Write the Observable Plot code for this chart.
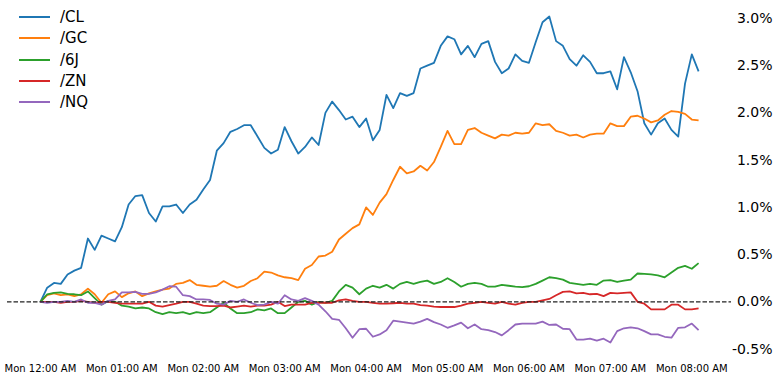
<!DOCTYPE html>
<html>
<head>
<meta charset="utf-8">
<script src="https://cdn.jsdelivr.net/npm/d3@7"></script>
<script src="https://cdn.jsdelivr.net/npm/@observablehq/plot@0.6"></script>
<style>
  html, body { margin: 0; padding: 0; background: #fff; }
  #wrap { position: relative; width: 780px; height: 374px; font-family: "DejaVu Sans", sans-serif; }
  #legend { position: absolute; left: 19px; top: 6.5px; }
  .row { display: flex; align-items: center; height: 21.25px; font-size: 15px; color: #000; }
  .row svg { margin-right: 10px; }
</style>
</head>
<body>
<div id="wrap"><div id="legend"></div></div>
<script>
// Series names and colours
const seriesNames = ["/CL", "/GC", "/6J", "/ZN", "/NQ"];
const seriesColors = ["#1f77b4", "#ff7f0e", "#2ca02c", "#d62728", "#9467bd"];

// Time axis: Monday, 5-minute bars starting at 12:00 AM
const startTime = Date.UTC(2024, 0, 1, 0, 0);
const stepMinutes = 5;

// Cumulative % change per series
const CL = [0, 0.15, 0.20, 0.19, 0.29, 0.33, 0.36, 0.67, 0.55, 0.70,
  0.67, 0.64, 0.79, 1.03, 1.12, 1.13, 0.94, 0.85, 1.01, 1.01,
  1.03, 0.94, 1.03, 1.08, 1.19, 1.29, 1.60, 1.68, 1.80, 1.83,
  1.87, 1.87, 1.75, 1.63, 1.57, 1.61, 1.85, 1.70, 1.57, 1.64,
  1.74, 1.66, 2.00, 2.12, 2.03, 1.93, 1.96, 1.85, 1.94, 1.71,
  1.82, 2.19, 2.05, 2.21, 2.18, 2.21, 2.47, 2.50, 2.53, 2.71,
  2.81, 2.78, 2.62, 2.71, 2.59, 2.73, 2.76, 2.54, 2.42, 2.47,
  2.62, 2.55, 2.53, 2.75, 2.96, 3.02, 2.76, 2.71, 2.57, 2.50,
  2.61, 2.54, 2.42, 2.42, 2.44, 2.25, 2.59, 2.43, 2.23, 1.89,
  1.77, 1.89, 1.94, 1.82, 1.75, 2.31, 2.62, 2.44];
const GC = [0, 0.07, 0.09, 0.07, 0.08, 0.06, 0.08, 0.14, 0.08, -0.01,
  0.08, 0.11, 0.05, 0.09, 0.11, 0.06, 0.09, 0.11, 0.13, 0.14,
  0.19, 0.20, 0.23, 0.18, 0.17, 0.16, 0.17, 0.22, 0.18, 0.15,
  0.17, 0.22, 0.25, 0.32, 0.31, 0.28, 0.26, 0.25, 0.23, 0.35,
  0.39, 0.48, 0.49, 0.53, 0.66, 0.72, 0.78, 0.82, 1.00, 0.92,
  1.05, 1.14, 1.29, 1.43, 1.36, 1.38, 1.44, 1.39, 1.48, 1.64,
  1.81, 1.67, 1.67, 1.82, 1.84, 1.79, 1.76, 1.73, 1.77, 1.76,
  1.79, 1.78, 1.79, 1.89, 1.87, 1.88, 1.81, 1.79, 1.76, 1.77,
  1.74, 1.77, 1.78, 1.78, 1.89, 1.86, 1.86, 1.96, 1.97, 1.94,
  1.90, 1.92, 1.98, 2.02, 2.01, 1.99, 1.93, 1.92];
const J6 = [0, 0.08, 0.095, 0.10, 0.085, 0.08, 0.07, 0.11, 0.04, -0.03,
  0.01, 0, -0.04, -0.05, -0.07, -0.06, -0.07, -0.11, -0.13, -0.11,
  -0.12, -0.11, -0.13, -0.11, -0.12, -0.11, -0.06, -0.01, -0.07, -0.12,
  -0.12, -0.11, -0.08, -0.09, -0.07, -0.12, -0.12, -0.06, 0, 0.01,
  -0.03, 0, -0.01, 0.01, 0.11, 0.18, 0.15, 0.08, 0.14, 0.17,
  0.15, 0.18, 0.14, 0.19, 0.21, 0.19, 0.21, 0.225, 0.19, 0.21,
  0.25, 0.21, 0.16, 0.19, 0.20, 0.19, 0.16, 0.16, 0.18, 0.17,
  0.16, 0.155, 0.165, 0.19, 0.225, 0.26, 0.25, 0.235, 0.20, 0.19,
  0.18, 0.19, 0.18, 0.225, 0.23, 0.21, 0.225, 0.235, 0.30, 0.295,
  0.29, 0.28, 0.26, 0.31, 0.36, 0.38, 0.35, 0.41];
const ZN = [0, 0, 0, -0.01, 0, 0, 0.01, 0, -0.01, 0,
  0, -0.01, -0.02, -0.02, -0.02, -0.02, 0, -0.04, -0.05, -0.035,
  -0.02, 0, 0, -0.02, -0.04, -0.045, -0.045, -0.04, -0.06, -0.05,
  -0.04, -0.05, -0.04, -0.04, -0.03, 0, -0.045, -0.03, -0.03, -0.03,
  -0.01, -0.01, -0.01, -0.01, 0.015, 0.025, 0.01, 0, 0, -0.01,
  -0.02, -0.02, -0.015, -0.01, -0.02, -0.02, -0.035, -0.04, -0.05, -0.055,
  -0.055, -0.055, -0.04, -0.02, -0.01, 0, -0.01, -0.02, 0, -0.02,
  -0.03, -0.01, 0, 0, 0.015, 0.03, 0.07, 0.105, 0.11, 0.09,
  0.095, 0.08, 0.085, 0.06, 0.095, 0.09, 0.095, 0.10, 0, -0.02,
  -0.08, -0.08, -0.08, -0.03, -0.03, -0.08, -0.08, -0.07];
const NQ = [0, -0.01, 0, 0, 0.01, 0, 0.025, -0.01, -0.01, -0.03,
  0.01, 0.025, 0.10, 0.10, 0.105, 0.085, 0.085, 0.10, 0.13, 0.165,
  0.16, 0.07, 0.06, 0.025, 0.025, 0.02, -0.02, -0.03, 0.01, 0,
  0.025, -0.01, -0.035, -0.03, 0, -0.02, 0.07, 0.025, 0.01, 0.04,
  0.01, -0.03, -0.10, -0.18, -0.19, -0.28, -0.38, -0.29, -0.285, -0.37,
  -0.345, -0.30, -0.20, -0.21, -0.22, -0.23, -0.21, -0.18, -0.215, -0.24,
  -0.275, -0.25, -0.22, -0.28, -0.24, -0.29, -0.30, -0.32, -0.355, -0.30,
  -0.24, -0.23, -0.23, -0.23, -0.21, -0.245, -0.24, -0.285, -0.29, -0.40,
  -0.40, -0.39, -0.41, -0.39, -0.43, -0.31, -0.28, -0.27, -0.28, -0.31,
  -0.345, -0.345, -0.37, -0.38, -0.275, -0.27, -0.23, -0.30];

// Tick values
const yTicks = [-0.5, 0, 0.5, 1.0, 1.5, 2.0, 2.5, 3.0];
const xTickHours = [0, 1, 2, 3, 4, 5, 6, 7, 8];

const seriesValues = [CL, GC, J6, ZN, NQ];
const MIN = 60 * 1000;
const rows = [];
seriesValues.forEach((vals, s) => {
  vals.forEach((v, i) => rows.push({series: seriesNames[s], t: new Date(startTime + i * stepMinutes * MIN), v}));
});
const nPts = CL.length;
const dataStart = startTime;
const dataEnd = startTime + (nPts - 1) * stepMinutes * MIN;
const pad = (dataEnd - dataStart) * 0.05;
const xTicks = xTickHours.map(h => new Date(startTime + h * 60 * MIN));
const fmt = d3.utcFormat("%a %I:%M %p");

const chart = Plot.plot({
  width: 780,
  height: 374,
  marginLeft: 7,
  marginRight: 49,
  marginTop: 0,
  marginBottom: 16,
  style: {fontFamily: "DejaVu Sans, sans-serif", fontSize: "10px", color: "#000", background: "#fff"},
  x: {type: "utc", domain: [new Date(dataStart - pad), new Date(dataEnd + pad)]},
  y: {domain: [-0.60, 3.19]},
  color: {domain: seriesNames, range: seriesColors},
  marks: [
    Plot.axisX({ticks: xTicks, tickSize: 0, tickPadding: 6, tickFormat: fmt, label: null, fontSize: 10}),
    Plot.axisY({anchor: "right", ticks: yTicks, tickSize: 0, tickPadding: 41, textAnchor: "end",
      tickFormat: d => d.toFixed(1) + "%", label: null, fontSize: 14}),
    Plot.line(rows, {x: "t", y: "v", z: "series", stroke: "series", strokeWidth: 1.8, strokeLinejoin: "round", strokeLinecap: "butt"}),
    Plot.ruleY([0], {stroke: "#222", strokeWidth: 1.3, strokeDasharray: "4.5,2"})
  ]
});
document.getElementById("wrap").prepend(chart);

// Legend overlay (top-left, inside the axes)
const legend = document.getElementById("legend");
seriesNames.forEach((name, i) => {
  const row = document.createElement("div");
  row.className = "row";
  row.innerHTML = `<svg width="31" height="4"><line x1="0" y1="2" x2="31" y2="2" stroke="${seriesColors[i]}" stroke-width="2"/></svg><span>${name}</span>`;
  legend.appendChild(row);
});
</script>
</body>
</html>
